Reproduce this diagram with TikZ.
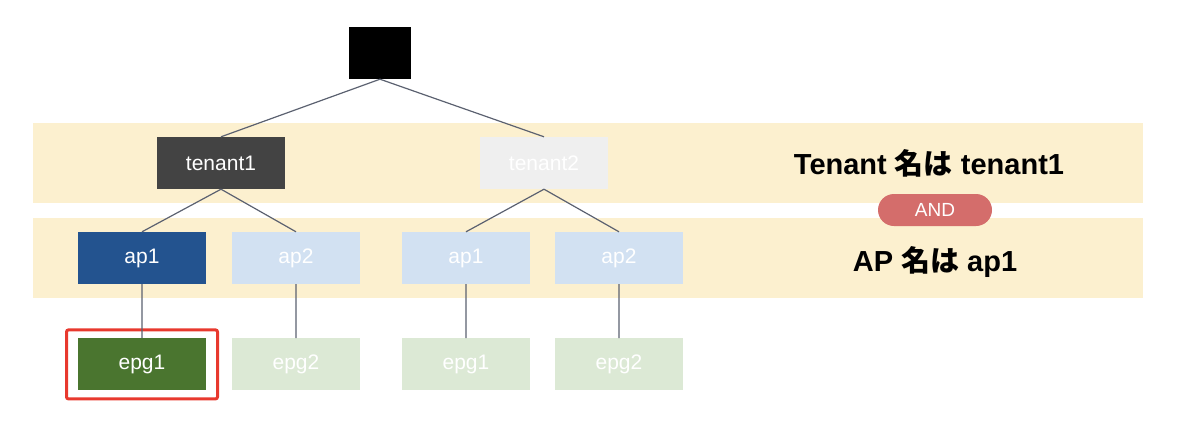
\documentclass[tikz,border=0pt]{standalone}
\usepackage{fontspec}
\setmainfont{Liberation Sans}
\newfontfamily\jpfont{Noto Sans CJK JP}
\usetikzlibrary{positioning}
\definecolor{bandYellow}{HTML}{FCF0CF}
\definecolor{tenantDark}{HTML}{434343}
\definecolor{tenantLight}{HTML}{EFEFEF}
\definecolor{apDark}{HTML}{23538F}
\definecolor{apLight}{HTML}{D2E1F2}
\definecolor{epgDark}{HTML}{4A752F}
\definecolor{epgLight}{HTML}{DCE9D5}
\definecolor{andRed}{HTML}{D46D6B}
\definecolor{markRed}{HTML}{E8392E}
\definecolor{edgeGray}{HTML}{5B6170}

\begin{document}
\begin{tikzpicture}[x=1pt,y=-1pt,
    box/.style={rectangle, minimum width=128pt, minimum height=52pt, inner sep=0pt, text=white, font=\fontsize{21}{25}\selectfont},
    band/.style={rectangle, fill=bandYellow, minimum width=1110pt, minimum height=80pt, inner sep=0pt},
    rule/.style={font=\fontsize{29}{34}\selectfont\bfseries},
    edge/.style={draw=edgeGray, line width=1.2pt}]
        \useasboundingbox (0,0) rectangle (1200,434);
        \node[band] (band1) at (588,163) {};
        \node[band] (band2) at (588,258) {};
        \node[rectangle, fill=black, minimum width=62pt, minimum height=52pt] (root) at (380,53) {};
        \node[box, fill=tenantDark] (t1) at (221,163) {tenant1};
        \node[box, fill=tenantLight] (t2) at (544,163) {tenant2};
        \node[box, fill=apDark] (t1ap1) at (142,258) {ap1};
        \node[box, fill=apLight] (t1ap2) at (296,258) {ap2};
        \node[box, fill=apLight] (t2ap1) at (466,258) {ap1};
        \node[box, fill=apLight] (t2ap2) at (619,258) {ap2};
        \node[box, fill=epgDark, below=54pt of t1ap1] (t1epg1) {epg1};
        \node[box, fill=epgLight, below=54pt of t1ap2] (t1epg2) {epg2};
        \node[box, fill=epgLight, below=54pt of t2ap1] (t2epg1) {epg1};
        \node[box, fill=epgLight, below=54pt of t2ap2] (t2epg2) {epg2};
        \node[rectangle, draw=markRed, line width=3pt, rounded corners=2pt, minimum width=151pt, minimum height=69pt] (mark) at (t1epg1) {};
        \node[rule] (ruleTenant) at (929,163) {Tenant {\jpfont\bfseries 名は} tenant1};
        \node[rule] (ruleAp) at (935,262) {AP {\jpfont\bfseries 名は} ap1};
        \node[rectangle, fill=andRed, rounded corners=16pt, minimum width=114pt, minimum height=32pt, inner sep=0pt, text=white, font=\fontsize{19}{22}\selectfont] (and) at (935,210) {AND};
        \draw[edge]
        (root.south) -- (t1.north)
        (root.south) -- (t2.north)
        (t1.south) -- (t1ap1.north)
        (t1.south) -- (t1ap2.north)
        (t2.south) -- (t2ap1.north)
        (t2.south) -- (t2ap2.north)
        (t1ap1) -- (t1epg1)
        (t1ap2) -- (t1epg2)
        (t2ap1) -- (t2epg1)
        (t2ap2) -- (t2epg2);
\end{tikzpicture}
\end{document}
